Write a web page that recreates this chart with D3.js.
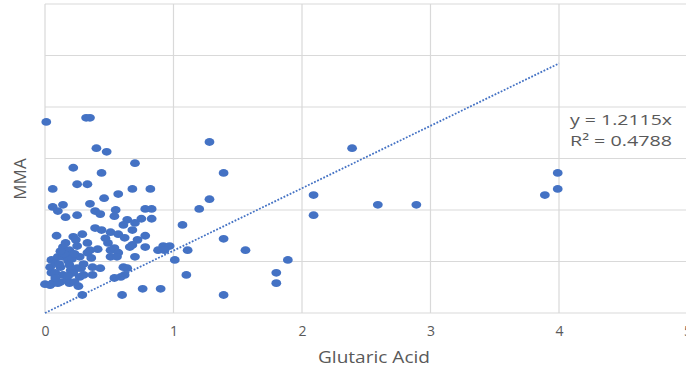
<!DOCTYPE html>
<html><head><meta charset="utf-8">
<script src="https://cdn.jsdelivr.net/npm/d3@7"></script>
<style>body{margin:0;background:#fff}svg{display:block}text{font-family:"Open Sans",sans-serif;fill:#595959}</style>
</head><body><svg id="c" width="686" height="374"></svg>
<script>
const xTicks = [0,1,2,3,4,5];
const yTicks = [0,1,2,3,4,5,6];
const xTitle = "Glutaric Acid";
const yTitle = "MMA";
const slope = 1.2115;
const eqLines = ["y = 1.2115x", "R² = 0.4788"];
const glutaric = [0.01,0.32,0.35,0.40,0.48,0.70,0.22,0.44,1.28,1.39,0.06,0.25,0.33,0.57,0.68,0.82,0.46,1.28,1.20,1.07,1.39,1.56,1.89,1.80,1.80,1.39,1.10,0.76,0.90,0.60,0.29,2.39,2.09,2.09,2.59,2.89,3.99,3.99,3.89,
0.06,0.14,0.10,0.16,0.25,0.35,0.39,0.43,0.55,0.54,0.64,0.70,0.78,0.83,0.75,0.83,0.61,
0.09,0.22,0.29,0.39,0.44,0.51,0.57,0.62,0.68,0.72,0.78,
0.14,0.19,0.16,0.25,0.33,0.35,0.41,0.49,0.51,0.54,0.57,0.66,0.78,0.88,0.92,0.97,0.93,1.11,0.68,
0.05,0.10,0.14,0.20,0.18,0.27,0.33,0.36,0.51,0.56,0.70,1.01,
0.04,0.08,0.12,0.19,0.25,0.28,0.37,0.43,0.64,0.20,
0.05,0.08,0.14,0.22,0.27,0.30,0.37,0.62,0.54,0.59,0.61,
0.00,0.04,0.06,0.10,0.12,0.17,0.19,0.23,0.26,
0.15,0.21,0.12,0.30,0.24,0.47,0.08,0.11,0.18,0.23];
const mma = [3.71,3.79,3.79,3.20,3.13,2.91,2.82,2.72,3.32,2.72,2.41,2.50,2.50,2.31,2.41,2.41,2.23,2.21,2.02,1.71,1.44,1.22,1.03,0.78,0.58,0.35,0.74,0.47,0.47,0.35,0.35,3.20,2.29,1.90,2.10,2.10,2.72,2.41,2.29,
2.06,2.10,1.98,1.86,1.90,2.12,1.98,1.92,2.00,1.88,1.81,1.75,2.02,2.02,1.83,1.83,1.71,
1.50,1.48,1.53,1.65,1.61,1.57,1.53,1.46,1.61,1.42,1.50,
1.28,1.22,1.36,1.30,1.36,1.22,1.24,1.36,1.22,1.26,1.17,1.28,1.28,1.22,1.30,1.30,1.22,1.22,1.32,
1.03,1.09,1.09,1.13,1.01,1.09,1.17,1.07,1.09,1.09,1.09,1.03,
0.89,0.97,0.89,0.93,0.87,0.87,0.89,0.87,0.87,0.83,
0.78,0.78,0.74,0.78,0.70,0.74,0.74,0.74,0.68,0.70,0.89,
0.56,0.54,0.58,0.58,0.60,0.64,0.58,0.60,0.52,
1.15,1.05,1.20,0.95,1.42,1.45,0.68,0.95,0.72,1.15];

const svg = d3.select("#c");
const L=45, R=687.5, T=4, B=313;
const x = d3.scaleLinear().domain([0,5]).range([L,R]);
const y = d3.scaleLinear().domain([0,6]).range([B,T]);

const g = svg.append("g");
g.selectAll("line.h").data(yTicks).join("line")
  .attr("x1",L).attr("x2",R).attr("y1",d=>y(d)).attr("y2",d=>y(d))
  .attr("stroke","#d9d9d9").attr("stroke-width",1.2);
g.selectAll("line.v").data(xTicks).join("line")
  .attr("y1",T).attr("y2",B).attr("x1",d=>x(d)).attr("x2",d=>x(d))
  .attr("stroke","#d9d9d9").attr("stroke-width",1.2);

const xAxis = d3.axisBottom(x).tickValues(xTicks).tickSize(0).tickPadding(13).tickFormat(d3.format("d"));
const ax = svg.append("g").attr("transform",`translate(0,${B})`).call(xAxis);
ax.select(".domain").remove();
ax.selectAll("text").attr("font-size",14).attr("fill","#595959").attr("font-family","Open Sans, sans-serif");

const pts = glutaric.map((v,i)=>({x:v,y:mma[i]}));
svg.append("g").selectAll("ellipse").data(pts).join("ellipse")
  .attr("cx",d=>x(d.x)).attr("cy",d=>y(d.y)).attr("rx",4.9).attr("ry",3.9)
  .attr("fill","#4472c4");

svg.append("line")
  .attr("x1",x(0)).attr("y1",y(0)).attr("x2",x(4)).attr("y2",y(4*slope))
  .attr("stroke","#4472c4").attr("stroke-width",1.8).attr("stroke-dasharray","1.8,1.6");

svg.append("text").attr("x",318).attr("y",363)
  .attr("font-size",15.5).attr("textLength",112).attr("lengthAdjust","spacingAndGlyphs").text(xTitle);
svg.append("text").attr("transform","translate(26,179) rotate(-90)").attr("text-anchor","middle")
  .attr("font-size",17).text(yTitle);
svg.selectAll("text.eq").data(eqLines).join("text")
  .attr("x",570).attr("y",(d,i)=>125+i*21).attr("font-size",14.5)
  .attr("textLength",102).attr("lengthAdjust","spacingAndGlyphs").text(d=>d);
</script></body></html>
